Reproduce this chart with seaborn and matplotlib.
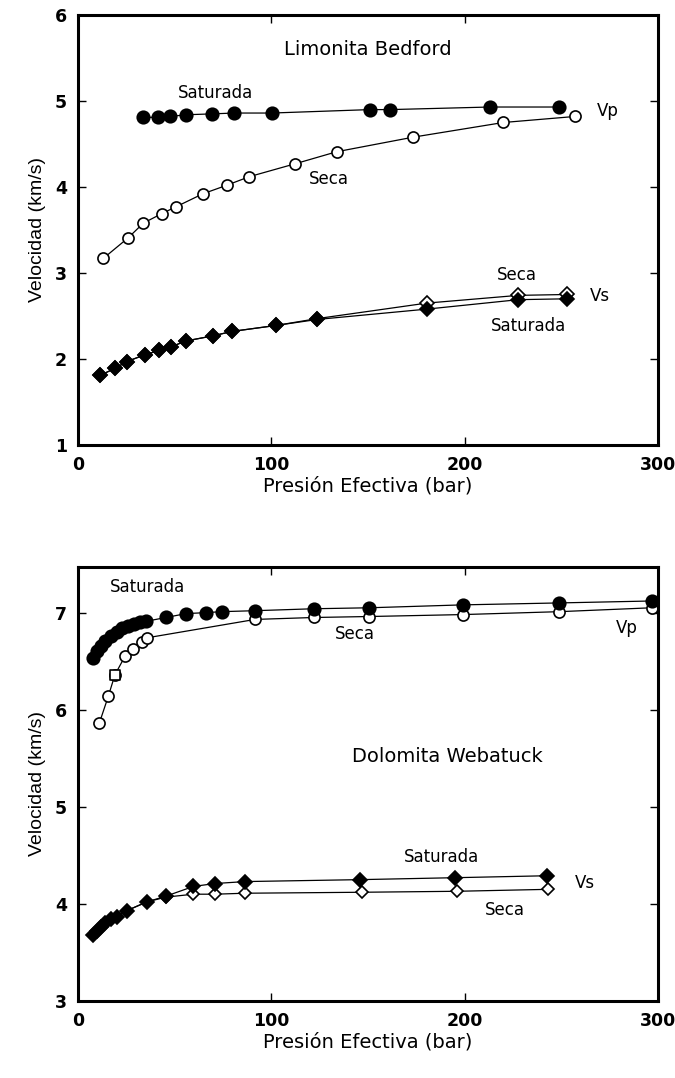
import matplotlib
matplotlib.use("Agg")
import matplotlib.pyplot as plt
import seaborn as sns
import pandas as pd

# ---------------- Data: Limonita Bedford ----------------
top_vp_sat_p = [33.5, 41.5, 47.6, 55.9, 69.1, 80.7, 100.2, 151, 161.4, 213, 249]
top_vp_sat_v = [4.81, 4.81, 4.82, 4.84, 4.85, 4.86, 4.86, 4.90, 4.90, 4.93, 4.93]

top_vp_dry_p = [13.1, 26.0, 33.8, 43.3, 50.7, 64.5, 76.9, 88.6, 112.3, 133.8, 173.5, 220, 257]
top_vp_dry_v = [3.17, 3.41, 3.58, 3.69, 3.77, 3.92, 4.02, 4.12, 4.27, 4.41, 4.58, 4.75, 4.82]

top_vs_sat_p = [11.4, 19.1, 25.2, 34.7, 42.1, 47.9, 55.9, 70.0, 79.5, 102.4, 123.8, 180.4, 227.8, 252.8]
top_vs_sat_v = [1.81, 1.89, 1.97, 2.05, 2.10, 2.14, 2.21, 2.27, 2.32, 2.39, 2.46, 2.58, 2.69, 2.70]

top_vs_dry_p = [11.4, 19.1, 25.2, 34.7, 42.1, 47.9, 55.9, 70.0, 79.5, 102.4, 123.8, 180.4, 227.8, 252.8]
top_vs_dry_v = [1.81, 1.89, 1.97, 2.05, 2.10, 2.14, 2.21, 2.27, 2.32, 2.39, 2.47, 2.65, 2.74, 2.75]

# ---------------- Data: Dolomita Webatuck ----------------
bot_vp_sat_p = [8, 10, 12, 14, 17, 20, 23, 26, 29, 32, 35, 45.5, 55.9, 66.2, 74.3, 91.6, 122, 150.7, 199, 249, 296.8]
bot_vp_sat_v = [6.53, 6.60, 6.66, 6.71, 6.76, 6.80, 6.84, 6.86, 6.88, 6.90, 6.91, 6.95, 6.99, 7.00, 7.01, 7.02, 7.04, 7.05, 7.08, 7.10, 7.12]

bot_vp_dry_p = [11.0, 15.7, 19.1, 24.3, 28.3, 32.9, 35.5, 91.6, 122, 150.7, 199, 249, 296.8]
bot_vp_dry_v = [5.86, 6.14, 6.36, 6.55, 6.63, 6.70, 6.74, 6.93, 6.95, 6.96, 6.98, 7.01, 7.05]
bot_vp_dry_square_p = [19.1]
bot_vp_dry_square_v = [6.36]

bot_vs_sat_p = [8, 10, 12, 14, 17, 20, 25.2, 35.5, 45.5, 59.7, 70.9, 86.4, 145.9, 195, 242.5]
bot_vs_sat_v = [3.68, 3.72, 3.76, 3.80, 3.84, 3.87, 3.93, 4.02, 4.08, 4.18, 4.21, 4.23, 4.25, 4.27, 4.29]

bot_vs_dry_p = [8, 10, 12, 14, 17, 20, 25.2, 35.5, 45.5, 59.7, 70.9, 86.4, 146.7, 196, 243]
bot_vs_dry_v = [3.68, 3.72, 3.76, 3.80, 3.84, 3.87, 3.93, 4.02, 4.07, 4.10, 4.10, 4.11, 4.12, 4.13, 4.15]

x_ticks = [0, 100, 200, 300]
top_y_ticks = [1, 2, 3, 4, 5, 6]
bot_y_ticks = [3, 4, 5, 6, 7]

sns.set_style("ticks")
plt.rcParams['font.family'] = ['DejaVu Sans']
plt.rcParams['text.color'] = 'black'
plt.rcParams['axes.labelcolor'] = 'black'
plt.rcParams['xtick.color'] = 'black'
plt.rcParams['ytick.color'] = 'black'

fig = plt.figure(figsize=(6.75, 10.78), dpi=100)
ax1 = fig.add_axes([78/675, 1-445/1078, 580/675, 430/1078])
ax2 = fig.add_axes([78/675, 1-1001/1078, 580/675, 434/1078])


def series(ax, p, v, filled, marker, ms, lw=0.9):
    df = pd.DataFrame({"p": p, "v": v})
    sns.lineplot(data=df, x="p", y="v", ax=ax, sort=False, estimator=None,
                 color="black", linewidth=lw, marker=marker, markersize=ms,
                 markerfacecolor="black" if filled else "white",
                 markeredgecolor="black", markeredgewidth=1.2)


# Top panel
series(ax1, top_vp_dry_p, top_vp_dry_v, False, "o", 8)
series(ax1, top_vp_sat_p, top_vp_sat_v, True, "o", 9)
series(ax1, top_vs_dry_p, top_vs_dry_v, False, "D", 7)
series(ax1, top_vs_sat_p, top_vs_sat_v, True, "D", 7)

# Bottom panel
series(ax2, bot_vp_dry_p, bot_vp_dry_v, False, "o", 8)
sns.scatterplot(x=bot_vp_dry_square_p, y=bot_vp_dry_square_v, ax=ax2, marker="s",
                s=60, facecolor="white", edgecolor="black", linewidth=1.2, zorder=5)
series(ax2, bot_vp_sat_p, bot_vp_sat_v, True, "o", 9)
series(ax2, bot_vs_dry_p, bot_vs_dry_v, False, "D", 6.5)
series(ax2, bot_vs_sat_p, bot_vs_sat_v, True, "D", 7)

for ax, yt in ((ax1, top_y_ticks), (ax2, bot_y_ticks)):
    ax.set_xlim(0, 300)
    ax.set_xticks(x_ticks)
    ax.set_yticks(yt)
    ax.tick_params(direction="in", length=6, width=1.0, top=True, right=True,
                   labelsize=12.5, pad=8, colors="black")
    for lab in ax.get_xticklabels() + ax.get_yticklabels():
        lab.set_fontweight("bold")
    for s in ax.spines.values():
        s.set_linewidth(2.2)
        s.set_color("black")
    ax.set_xlabel("Presión Efectiva (bar)", fontsize=14, labelpad=2, color="black")
    ax.set_ylabel("Velocidad (km/s)", fontsize=14, family="Liberation Sans",
                  labelpad=6, color="black")

ax1.set_ylim(1, 6)
ax2.set_ylim(3, 7.47)

tk = dict(fontsize=12, ha="center", va="center", color="black")
ax1.text(150, 5.6, "Limonita Bedford", fontsize=14, ha="center", va="center", color="black")
ax1.text(71, 5.09, "Saturada", **tk)
ax1.text(274, 4.88, "Vp", **tk)
ax1.text(130, 4.09, "Seca", **tk)
ax1.text(227, 2.98, "Seca", **tk)
ax1.text(270, 2.73, "Vs", **tk)
ax1.text(233, 2.38, "Saturada", **tk)

ax2.text(36, 7.26, "Saturada", **tk)
ax2.text(143, 6.78, "Seca", **tk)
ax2.text(284, 6.84, "Vp", **tk)
ax2.text(191, 5.52, "Dolomita Webatuck", fontsize=14, ha="center", va="center", color="black")
ax2.text(188, 4.48, "Saturada", **tk)
ax2.text(262, 4.22, "Vs", **tk)
ax2.text(221, 3.94, "Seca", **tk)

fig.savefig("out.png", dpi=100)
